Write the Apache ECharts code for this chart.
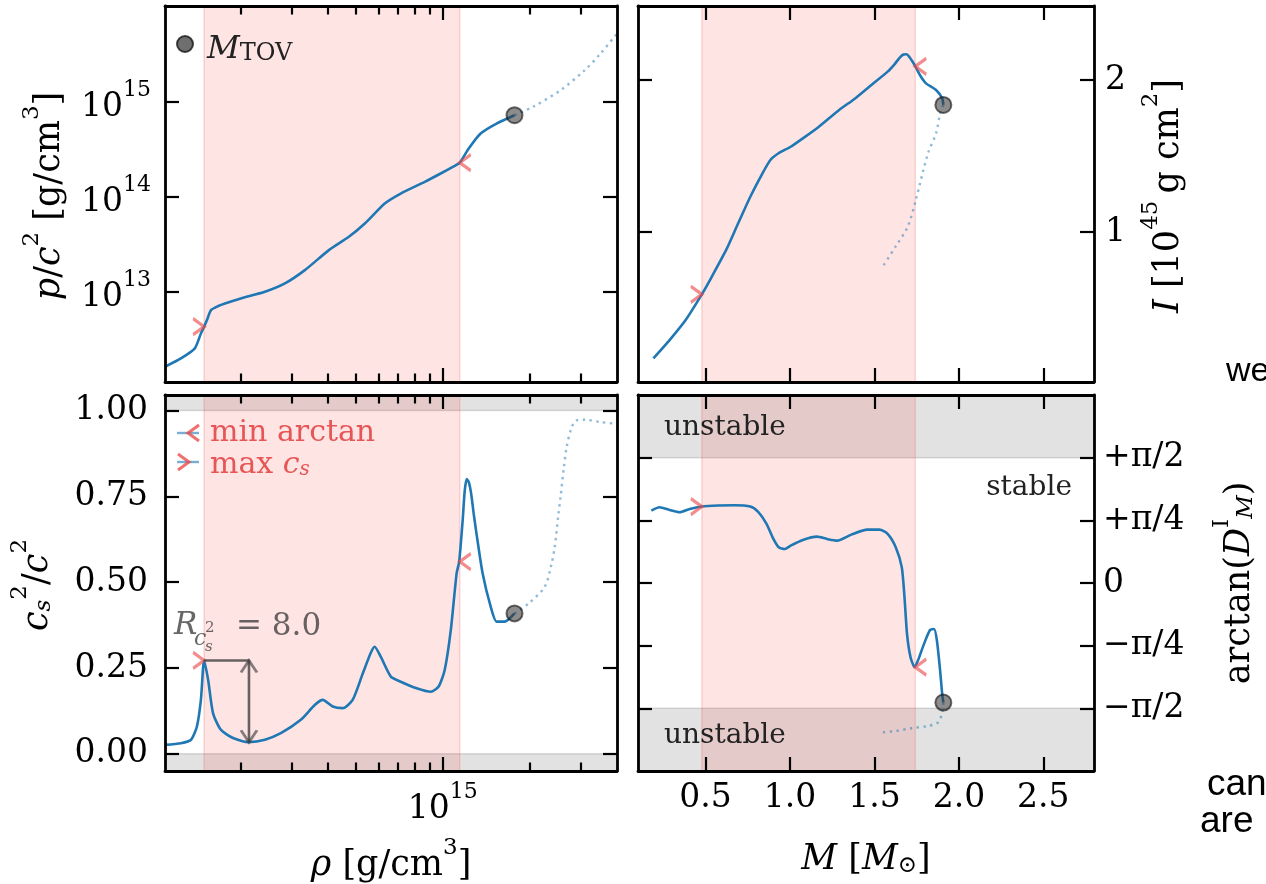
<!DOCTYPE html>
<html><head><meta charset="utf-8">
<script src="https://cdn.jsdelivr.net/npm/echarts@6/dist/echarts.min.js"></script>
<style>html,body{margin:0;padding:0;background:#fff;overflow:hidden}#c{width:1266px;height:884px}</style>
</head><body><div id="c"></div>
<script>
// ---------------- DATA ----------------
// axis ranges
const rhoRange = [14.041, 15.602];          // log10(rho [g/cm^3])
const logPRange = [12.05, 16.01];           // log10(p/c^2 [g/cm^3])
const massRange = [0.1, 2.8];               // M [Msun]
const inertiaRange = [0.013, 2.487];        // I [1e45 g cm^2]
const cs2Range = [-0.05, 1.045];            // cs^2/c^2
const arctanRange = [-3 * Math.PI / 4, 3 * Math.PI / 4];

// ticks
const rhoMajorTicks = [15];
const rhoMinorTicks = [2e14, 3e14, 4e14, 5e14, 6e14, 7e14, 8e14, 9e14, 2e15, 3e15].map(Math.log10);
const logPTicks = [13, 14, 15];
const massTicks = [0.5, 1.0, 1.5, 2.0, 2.5];
const inertiaTicks = [1, 2];
const cs2Ticks = [0, 0.25, 0.5, 0.75, 1.0];
const arctanTicks = [-Math.PI / 2, -Math.PI / 4, 0, Math.PI / 4, Math.PI / 2];
const arctanTickLabels = ['−π/2', '−π/4', '0', '+π/4', '+π/2'];

// stability limits
const cs2Limits = [0, 1];
const arctanLimits = [-Math.PI / 2, Math.PI / 2];

// top-left: [log10 rho, log10 p/c^2]
const pStable = [[14.041,12.211],[14.096,12.298],[14.144,12.404],[14.165,12.561],[14.176,12.632],[14.188,12.72],[14.200,12.807],[14.225,12.85],[14.248,12.877],[14.303,12.930],[14.386,13.0],[14.455,13.088],[14.524,13.228],[14.607,13.439],[14.676,13.579],[14.731,13.719],[14.800,13.930],[14.855,14.035],[14.938,14.158],[14.993,14.246],[15.035,14.316],[15.059,14.36],[15.090,14.509],[15.131,14.667],[15.186,14.772],[15.248,14.860]];
const pUnstable = [[15.248,14.86],[15.311,14.947],[15.407,15.123],[15.490,15.333],[15.545,15.509],[15.602,15.72]];

// top-right: [M, I]
const iStable = [[0.191,0.169],[0.287,0.289],[0.382,0.421],[0.478,0.59],[0.526,0.684],[0.622,0.882],[0.693,1.057],[0.765,1.232],[0.837,1.386],[0.884,1.474],[0.932,1.518],[1.004,1.561],[1.076,1.616],[1.171,1.693],[1.291,1.803],[1.386,1.879],[1.482,1.967],[1.578,2.055],[1.620,2.105],[1.650,2.148],[1.672,2.168],[1.690,2.170],[1.708,2.150],[1.726,2.120],[1.742,2.09],[1.769,2.033],[1.805,1.978],[1.865,1.934],[1.901,1.879],[1.908,1.836]];
const iUnstable = [[1.908,1.836],[1.889,1.781],[1.865,1.649],[1.817,1.518],[1.745,1.211],[1.697,1.035],[1.625,0.904],[1.542,0.761]];

// bottom-left: [log10 rho, cs^2/c^2]
const cs2Stable = [[14.041,0.026],[14.096,0.031],[14.131,0.041],[14.151,0.079],[14.165,0.157],[14.176,0.272],[14.190,0.215],[14.207,0.118],[14.234,0.070],[14.276,0.046],[14.331,0.034],[14.386,0.041],[14.441,0.060],[14.510,0.099],[14.558,0.142],[14.586,0.157],[14.620,0.138],[14.655,0.133],[14.689,0.157],[14.724,0.234],[14.751,0.293],[14.765,0.312],[14.786,0.283],[14.821,0.225],[14.855,0.210],[14.910,0.191],[14.959,0.181],[14.986,0.196],[15.007,0.244],[15.028,0.360],[15.048,0.525],[15.057,0.56],[15.069,0.680],[15.076,0.765],[15.083,0.800],[15.090,0.792],[15.098,0.760],[15.107,0.700],[15.117,0.640],[15.138,0.525],[15.166,0.428],[15.186,0.385],[15.214,0.385],[15.248,0.409]];
const cs2Unstable = [[15.248,0.409],[15.297,0.438],[15.352,0.486],[15.375,0.55],[15.387,0.603],[15.400,0.70],[15.407,0.748],[15.418,0.83],[15.428,0.893],[15.445,0.95],[15.462,0.971],[15.490,0.973],[15.545,0.966],[15.602,0.961]];

// bottom-right: [M, arctan(D_M^I) in rad]
const arcStable = [[0.179,0.908],[0.227,0.950],[0.287,0.916],[0.346,0.887],[0.406,0.928],[0.478,0.958],[0.574,0.971],[0.670,0.975],[0.765,0.958],[0.813,0.887],[0.861,0.741],[0.897,0.573],[0.933,0.448],[0.969,0.426],[1.004,0.469],[1.076,0.540],[1.160,0.581],[1.219,0.552],[1.279,0.531],[1.363,0.606],[1.458,0.669],[1.530,0.669],[1.578,0.615],[1.626,0.448],[1.662,0.196],[1.678,-0.180],[1.693,-0.640],[1.714,-0.933],[1.738,-1.055],[1.757,-0.975],[1.793,-0.766],[1.829,-0.590],[1.853,-0.577],[1.870,-0.723],[1.889,-1.100],[1.901,-1.393],[1.908,-1.498]];
const arcUnstable = [[1.908,-1.498],[1.901,-1.623],[1.877,-1.748],[1.817,-1.791],[1.721,-1.820],[1.626,-1.854],[1.542,-1.874]];

// special points: [logRho, logP, cs2, M, I, arctan]
const maxCsPoint = [14.176, 12.632, 0.272, 0.478, 0.59, 0.958];
const minArctanPoint = [15.059, 14.36, 0.56, 1.742, 2.09, -1.055];
const mtovPoint = [15.248, 14.86, 0.409, 1.908, 1.836, -1.498];
// R_{cs^2} annotation: [logRho, cs2] of the minimum after the first peak
const cs2MinPoint = [14.331, 0.034];

// ---------------- STYLE ----------------
const SERIF = '"DejaVu Serif", serif';
const BLUE = '#1f77b4';
const DOT = 'rgba(31,119,180,0.5)';
const RED = 'rgba(236,72,72,0.78)';
const GREYTXT = 'rgba(60,60,60,0.78)';
const PINK = 'rgba(255,40,40,0.125)';
const GREY = 'rgba(0,0,0,0.115)';

function richSet(size, color) {
  const s = Math.round(size * 0.66);
  const t = Math.round(size * 0.75);
  return {
    n: {fontFamily: SERIF, fontSize: size, lineHeight: size + 12, verticalAlign: 'bottom', fill: color, color: color},
    i: {fontFamily: SERIF, fontStyle: 'italic', fontSize: size, lineHeight: size + 12, verticalAlign: 'bottom', fill: color, color: color},
    sup: {fontFamily: SERIF, fontSize: s, lineHeight: s, verticalAlign: 'top', fill: color, color: color},
    sub: {fontFamily: SERIF, fontSize: s, lineHeight: s, verticalAlign: 'bottom', fill: color, color: color},
    tsub: {fontFamily: SERIF, fontSize: t, lineHeight: t, verticalAlign: 'bottom', fill: color, color: color},
    isub: {fontFamily: SERIF, fontStyle: 'italic', fontSize: s, lineHeight: s, verticalAlign: 'bottom', fill: color, color: color}
  };
}
const LABEL_RICH = richSet(33, '#000');

function mkAxis(grid, position, range, ticks, tickLen, label, showLine) {
  const a = {
    gridIndex: grid, type: 'value', position: position, min: range[0], max: range[1], z: 10,
    axisLine: {show: showLine, onZero: false, lineStyle: {color: '#000', width: 2.8}},
    axisTick: {show: true, inside: true, length: tickLen, customValues: ticks, lineStyle: {color: '#000', width: 2.2}},
    axisLabel: {show: false},
    splitLine: {show: false}, minorTick: {show: false}
  };
  if (label) {
    a.axisLabel = Object.assign({show: true, customValues: ticks, color: '#000', fontFamily: SERIF, fontSize: 33, rich: LABEL_RICH}, label);
  }
  return a;
}
const pow10 = v => '{n|10}{sup|' + Math.round(v) + '}';
const MAJ = 14, MIN = 8.5;

const xAxes = [
  mkAxis(0, 'bottom', rhoRange, rhoMajorTicks, MAJ, null, true),   //0
  mkAxis(0, 'top', rhoRange, rhoMajorTicks, MAJ, null, true),      //1
  mkAxis(0, 'bottom', rhoRange, rhoMinorTicks, MIN, null, false),  //2
  mkAxis(0, 'top', rhoRange, rhoMinorTicks, MIN, null, false),     //3
  mkAxis(1, 'bottom', massRange, massTicks, MAJ, null, true),      //4
  mkAxis(1, 'top', massRange, massTicks, MAJ, null, true),         //5
  mkAxis(2, 'bottom', rhoRange, rhoMajorTicks, MAJ, {formatter: pow10, margin: 10}, true), //6
  mkAxis(2, 'top', rhoRange, rhoMajorTicks, MAJ, null, true),      //7
  mkAxis(2, 'bottom', rhoRange, rhoMinorTicks, MIN, null, false),  //8
  mkAxis(2, 'top', rhoRange, rhoMinorTicks, MIN, null, false),     //9
  mkAxis(3, 'bottom', massRange, massTicks, MAJ, {formatter: v => v.toFixed(1), margin: 11}, true), //10
  mkAxis(3, 'top', massRange, massTicks, MAJ, null, true)          //11
];
const yAxes = [
  mkAxis(0, 'left', logPRange, logPTicks, MAJ, {formatter: pow10, margin: 14}, true),   //0
  mkAxis(0, 'right', logPRange, logPTicks, MAJ, null, true),                            //1
  mkAxis(1, 'left', inertiaRange, inertiaTicks, MAJ, null, true),                       //2
  mkAxis(1, 'right', inertiaRange, inertiaTicks, MAJ, {formatter: v => String(Math.round(v)), margin: 11}, true), //3
  mkAxis(2, 'left', cs2Range, cs2Ticks, MAJ, {formatter: v => v.toFixed(2), margin: 17}, true), //4
  mkAxis(2, 'right', cs2Range, cs2Ticks, MAJ, null, true),                              //5
  mkAxis(3, 'left', arctanRange, arctanTicks, MAJ, null, true),                         //6
  mkAxis(3, 'right', arctanRange, arctanTicks, MAJ, {
    formatter: v => { let k = 0, d = 1e9; arctanTicks.forEach((t, j) => { if (Math.abs(t - v) < d) { d = Math.abs(t - v); k = j; } }); return arctanTickLabels[k]; },
    margin: 9}, true)                                                                   //7
];

const panels = [
  {x: 0, y: 0, xDim: 0, yDim: 1, stable: pStable, unstable: pUnstable, grey: null},
  {x: 4, y: 2, xDim: 3, yDim: 4, stable: iStable, unstable: iUnstable, grey: null},
  {x: 6, y: 4, xDim: 0, yDim: 2, stable: cs2Stable, unstable: cs2Unstable, grey: [[cs2Limits[1], cs2Range[1]], [cs2Range[0], cs2Limits[0]]]},
  {x: 10, y: 6, xDim: 3, yDim: 5, stable: arcStable, unstable: arcUnstable, grey: [[arctanLimits[1], arctanRange[1]], [arctanRange[0], arctanLimits[0]]]}
];

const LEFT_CHEV = 'path://M11,-8 L0,0 L11,8';
const RIGHT_CHEV = 'path://M0,-8 L11,0 L0,8';
const UP_HEAD = 'path://M-8,12 L0,0 L8,12';
const DOWN_HEAD = 'path://M-8,-12 L0,0 L8,-12';

const series = [];
panels.forEach((p, k) => {
  const ax = {xAxisIndex: p.x, yAxisIndex: p.y};
  const areas = [];
  if (p.grey) p.grey.forEach(g => areas.push([{yAxis: g[0], itemStyle: {color: GREY, borderColor: 'rgba(0,0,0,0.13)', borderWidth: 1.5}}, {yAxis: g[1]}]));
  const bandL = maxCsPoint[p.xDim], bandR = minArctanPoint[p.xDim];
  areas.push([{xAxis: bandL, itemStyle: {color: PINK, borderColor: 'rgba(235,90,90,0.22)', borderWidth: 1.5}}, {xAxis: bandR}]);
  series.push(Object.assign({
    type: 'line', name: 'band' + k, data: p.stable, showSymbol: false, silent: true, z: 1,
    lineStyle: {opacity: 0}, animation: false,
    markArea: {silent: true, label: {show: false}, data: areas}
  }, ax));
  series.push(Object.assign({type: 'line', name: 'unstable' + k, data: p.unstable, showSymbol: false, smooth: 0.3, z: 3,
    lineStyle: {color: DOT, width: 2.4, type: [2.4, 4.4], cap: 'butt'}, animation: false}, ax));
  series.push(Object.assign({type: 'line', name: 'stable' + k, data: p.stable, showSymbol: false, smooth: 0.22, z: 4,
    lineStyle: {color: BLUE, width: 2.6}, animation: false}, ax));
  series.push(Object.assign({type: 'scatter', name: 'max cs', z: 6, symbol: RIGHT_CHEV, symbolSize: [11, 16], symbolOffset: [-5.5, 0],
    itemStyle: {color: 'rgba(0,0,0,0)', borderColor: RED, borderWidth: 3},
    data: [[maxCsPoint[p.xDim], maxCsPoint[p.yDim]]], animation: false}, ax));
  series.push(Object.assign({type: 'scatter', name: 'min arctan', z: 6, symbol: LEFT_CHEV, symbolSize: [11, 16], symbolOffset: [5.5, 0],
    itemStyle: {color: 'rgba(0,0,0,0)', borderColor: RED, borderWidth: 3},
    data: [[minArctanPoint[p.xDim], minArctanPoint[p.yDim]]], animation: false}, ax));
  series.push(Object.assign({type: 'scatter', name: 'M_TOV', z: 7, symbol: 'circle', symbolSize: 16,
    itemStyle: {color: 'rgba(55,55,55,0.72)', borderColor: 'rgba(15,15,15,0.75)', borderWidth: 2},
    data: [[mtovPoint[p.xDim], mtovPoint[p.yDim]]], animation: false}, ax));
});

// R_{cs^2} annotation arrow (bottom-left)
series.push({type: 'line', name: 'ratio', xAxisIndex: 6, yAxisIndex: 4, z: 8, showSymbol: false, animation: false,
  lineStyle: {color: GREYTXT, width: 2.6},
  data: [[maxCsPoint[0], maxCsPoint[2]], [cs2MinPoint[0], maxCsPoint[2]], [cs2MinPoint[0], cs2MinPoint[1]]]});
series.push({type: 'scatter', name: 'head up', xAxisIndex: 6, yAxisIndex: 4, z: 8, symbol: UP_HEAD, symbolSize: [16, 12], symbolOffset: [0, 6],
  itemStyle: {color: 'rgba(0,0,0,0)', borderColor: GREYTXT, borderWidth: 2.6}, data: [[cs2MinPoint[0], maxCsPoint[2]]], animation: false});
series.push({type: 'scatter', name: 'head down', xAxisIndex: 6, yAxisIndex: 4, z: 8, symbol: DOWN_HEAD, symbolSize: [16, 12], symbolOffset: [0, -6],
  itemStyle: {color: 'rgba(0,0,0,0)', borderColor: GREYTXT, borderWidth: 2.6}, data: [[cs2MinPoint[0], cs2MinPoint[1]]], animation: false});

// ---------------- TEXT / ANNOTATIONS ----------------
function txt(x, y, text, o) {
  o = o || {};
  const size = o.size || 35, color = o.color || '#000';
  return {type: 'text', x: x, y: y, rotation: o.rot || 0, z: 100, silent: true,
    style: {text: text, x: 0, y: 0, align: o.align || 'center', verticalAlign: 'middle', textAlign: o.align || 'center', textVerticalAlign: 'middle',
      fill: color, fontFamily: o.family || SERIF, fontSize: size, fontStyle: o.italic ? 'italic' : 'normal', rich: richSet(size, color)}};
}
const R90 = Math.PI / 2;
const SANS = '"Liberation Sans", Arial, sans-serif';
const graphics = [
  // axis titles
  txt(44, 196, '{i|p}{n|/}{i|c}{sup|2}{n| [g/cm}{sup|3}{n|]}', {rot: R90, size: 35}),
  txt(32, 585, '{i|c}{isub|s}{sup|2}{n|/}{i|c}{sup|2}', {rot: R90, size: 35}),
  txt(1163, 196, '{i|I}{n| [10}{sup|45}{n|\u2009g cm}{sup|2}{n|]}', {rot: R90, size: 35}),
  txt(1234, 583, '{n|arctan(}{i|D}{sup|I}{isub|M}{n|)}', {rot: R90, size: 35}),
  txt(391, 860, '{i|ρ}{n| [g/cm}{sup|3}{n|]}', {size: 35}),
  txt(866, 854, '{i|M}{n| [}{i|M}{sub|⊙}{n|]}', {size: 35}),
  // legend M_TOV
  {type: 'circle', z: 100, silent: true, shape: {cx: 185, cy: 44, r: 8}, style: {fill: 'rgba(55,55,55,0.72)', stroke: 'rgba(15,15,15,0.75)', lineWidth: 2}},
  txt(207, 44, '{i|M}{tsub|TOV}', {align: 'left', size: 32, color: '#222'}),
  // legend min arctan / max cs
  {type: 'line', z: 100, silent: true, shape: {x1: 177, y1: 433, x2: 199, y2: 433}, style: {stroke: 'rgba(31,119,180,0.6)', lineWidth: 2.4}},
  {type: 'polyline', z: 101, silent: true, shape: {points: [[199, 425], [188, 433], [199, 441]]}, style: {stroke: RED, lineWidth: 3, fill: null}},
  txt(210, 433, 'min arctan', {align: 'left', size: 30, color: 'rgba(228,70,70,0.9)'}),
  {type: 'line', z: 100, silent: true, shape: {x1: 177, y1: 462, x2: 199, y2: 462}, style: {stroke: 'rgba(31,119,180,0.6)', lineWidth: 2.4}},
  {type: 'polyline', z: 101, silent: true, shape: {points: [[178, 454], [189, 462], [178, 470]]}, style: {stroke: RED, lineWidth: 3, fill: null}},
  txt(210, 459, '{n|max }{i|c}{isub|s}', {align: 'left', size: 30, color: 'rgba(228,70,70,0.9)'}),
  // R annotation
  txt(174, 626, 'R', {align: 'left', size: 31, italic: true, color: GREYTXT}),
  txt(194, 639, 'c', {align: 'left', size: 22, italic: true, color: GREYTXT}),
  txt(205, 628, '2', {align: 'left', size: 15, color: GREYTXT}),
  txt(205, 647, 's', {align: 'left', size: 15, italic: true, color: GREYTXT}),
  txt(236, 627, '= 8.0', {align: 'left', size: 31, color: GREYTXT}),
  // stability labels
  txt(664, 428, 'unstable', {align: 'left', size: 28, color: '#222'}),
  txt(664, 736, 'unstable', {align: 'left', size: 28, color: '#222'}),
  txt(1072, 488, 'stable', {align: 'right', size: 28, color: '#222'}),
  // surrounding page text
  txt(1226, 372, 'we', {align: 'left', size: 34, family: SANS}),
  txt(1207, 785, 'can', {align: 'left', size: 37, family: SANS}),
  txt(1200, 822, 'are', {align: 'left', size: 37, family: SANS})
];

const option = {
  animation: false,
  backgroundColor: '#fff',
  grid: [
    {left: 165, top: 6, width: 452, height: 376},
    {left: 638, top: 6, width: 456, height: 376},
    {left: 165, top: 395, width: 452, height: 376},
    {left: 638, top: 395, width: 456, height: 376}
  ],
  xAxis: xAxes,
  yAxis: yAxes,
  series: series,
  graphic: graphics
};
const chart = echarts.init(document.getElementById('c'), null, {renderer: 'canvas', width: 1266, height: 884});
chart.setOption(option);
</script>
</body></html>
